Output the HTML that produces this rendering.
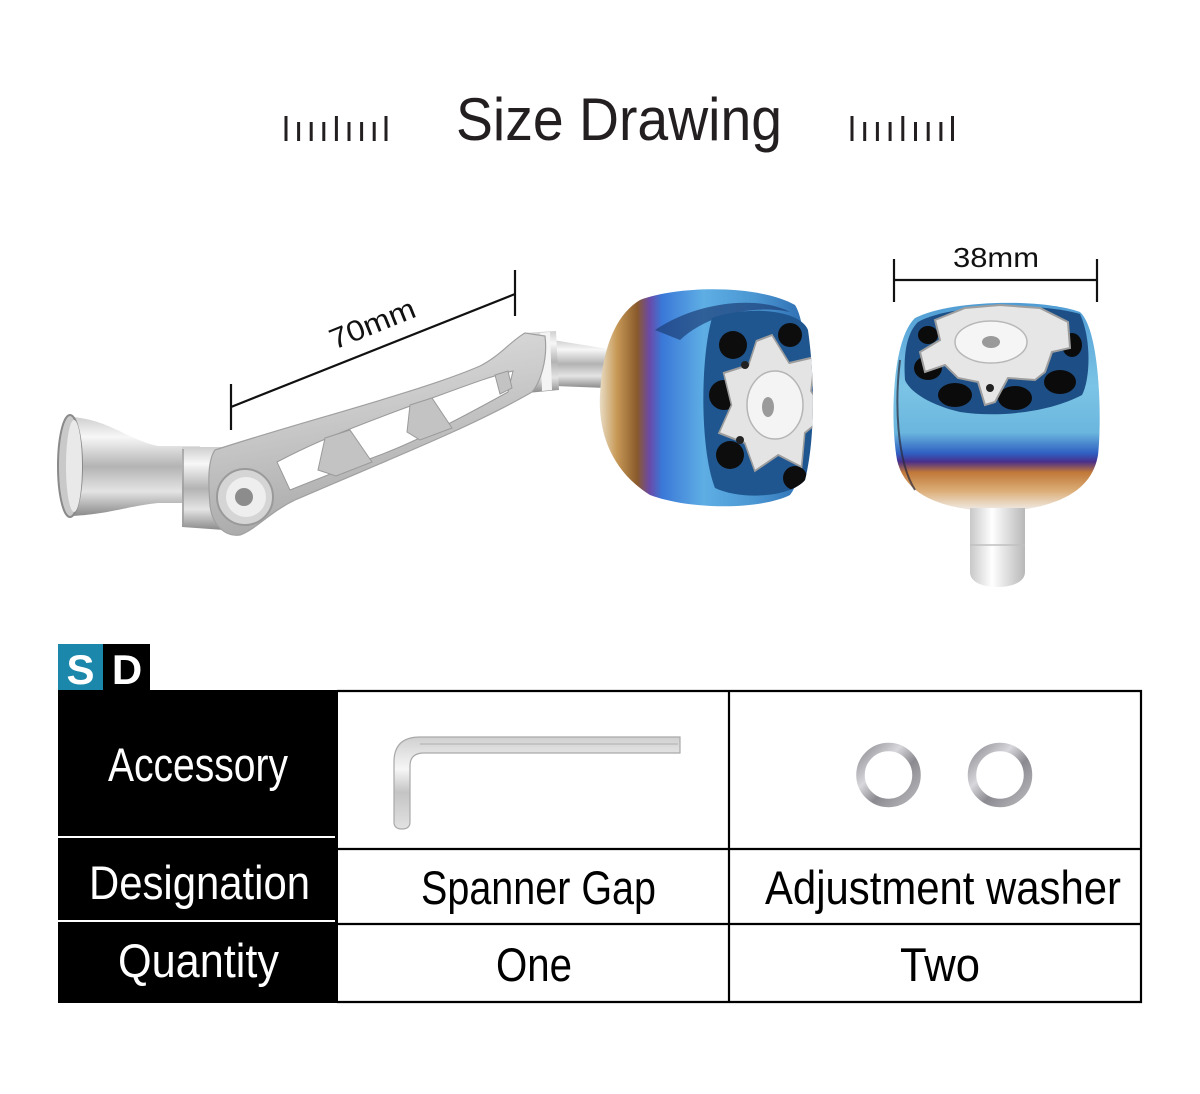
<!DOCTYPE html>
<html><head><meta charset="utf-8">
<style>
html,body{margin:0;padding:0;background:#fff;}
svg{display:block;}
text{font-family:"Liberation Sans",sans-serif;}
</style></head>
<body>
<svg width="1200" height="1094" viewBox="0 0 1200 1094" xmlns="http://www.w3.org/2000/svg">
<defs>
  <linearGradient id="silverV" x1="0" y1="0" x2="0" y2="1">
    <stop offset="0" stop-color="#cfcfcf"/>
    <stop offset="0.2" stop-color="#f7f7f7"/>
    <stop offset="0.5" stop-color="#b3b3b3"/>
    <stop offset="0.75" stop-color="#e4e4e4"/>
    <stop offset="1" stop-color="#8a8a8a"/>
  </linearGradient>
  <linearGradient id="arm" x1="0" y1="0" x2="0.3" y2="1">
    <stop offset="0" stop-color="#e4e4e4"/>
    <stop offset="0.45" stop-color="#cbcbcb"/>
    <stop offset="1" stop-color="#a8a8a8"/>
  </linearGradient>
  <linearGradient id="knobL" x1="0" y1="0" x2="1" y2="0">
    <stop offset="0" stop-color="#e8dcc4"/>
    <stop offset="0.08" stop-color="#c89a58"/>
    <stop offset="0.18" stop-color="#8a5a2a"/>
    <stop offset="0.24" stop-color="#6a4aa8"/>
    <stop offset="0.3" stop-color="#3a78d8"/>
    <stop offset="0.5" stop-color="#5eaee4"/>
    <stop offset="0.75" stop-color="#4a96d2"/>
    <stop offset="1" stop-color="#2d6cb0"/>
  </linearGradient>
  <linearGradient id="knobR" x1="0" y1="0" x2="0" y2="1">
    <stop offset="0" stop-color="#4f9cd4"/>
    <stop offset="0.4" stop-color="#7cc4e6"/>
    <stop offset="0.62" stop-color="#6ab6de"/>
    <stop offset="0.72" stop-color="#2f5fc2"/>
    <stop offset="0.76" stop-color="#4a2f8a"/>
    <stop offset="0.81" stop-color="#c07838"/>
    <stop offset="0.9" stop-color="#dcae78"/>
    <stop offset="1" stop-color="#f2f2f2"/>
  </linearGradient>
  <linearGradient id="shaftR" x1="0" y1="0" x2="1" y2="0">
    <stop offset="0" stop-color="#c8c8c8"/>
    <stop offset="0.4" stop-color="#ffffff"/>
    <stop offset="1" stop-color="#b8b8b8"/>
  </linearGradient>
  <linearGradient id="washer" x1="0" y1="0" x2="1" y2="1">
    <stop offset="0" stop-color="#8e8e94"/>
    <stop offset="0.35" stop-color="#d8d8dc"/>
    <stop offset="0.6" stop-color="#8a8a90"/>
    <stop offset="1" stop-color="#b8b8bc"/>
  </linearGradient>
  <linearGradient id="hexkey" x1="0" y1="0" x2="0" y2="1">
    <stop offset="0" stop-color="#d0d0d0"/>
    <stop offset="0.35" stop-color="#f6f6f6"/>
    <stop offset="0.6" stop-color="#c4c4c4"/>
    <stop offset="1" stop-color="#e2e2e2"/>
  </linearGradient>
  <clipPath id="faceL"><path d="M712 318 C750 305 800 310 808 330 C815 380 815 440 805 480 C790 498 740 500 715 488 C700 450 700 360 712 318 Z"/></clipPath>
</defs>

<rect width="1200" height="1094" fill="#fff"/>

<!-- Title -->
<text x="456" y="140" font-size="60" fill="#231f20" textLength="326" lengthAdjust="spacingAndGlyphs">Size Drawing</text>
<g stroke="#231f20" stroke-width="3">
  <line x1="286" y1="116" x2="286" y2="141"/>
  <line x1="298.6" y1="122" x2="298.6" y2="141"/>
  <line x1="311.2" y1="122" x2="311.2" y2="141"/>
  <line x1="323.8" y1="122" x2="323.8" y2="141"/>
  <line x1="336.4" y1="116" x2="336.4" y2="141"/>
  <line x1="349" y1="122" x2="349" y2="141"/>
  <line x1="361.6" y1="122" x2="361.6" y2="141"/>
  <line x1="374.2" y1="122" x2="374.2" y2="141"/>
  <line x1="386" y1="116" x2="386" y2="141"/>

  <line x1="852" y1="116" x2="852" y2="141"/>
  <line x1="864.7" y1="122" x2="864.7" y2="141"/>
  <line x1="877.4" y1="122" x2="877.4" y2="141"/>
  <line x1="890.1" y1="122" x2="890.1" y2="141"/>
  <line x1="902.8" y1="116" x2="902.8" y2="141"/>
  <line x1="915.5" y1="122" x2="915.5" y2="141"/>
  <line x1="928.2" y1="122" x2="928.2" y2="141"/>
  <line x1="940.9" y1="122" x2="940.9" y2="141"/>
  <line x1="952.5" y1="116" x2="952.5" y2="141"/>
</g>

<!-- 70mm dimension -->
<g stroke="#111" stroke-width="2.2">
  <line x1="231" y1="384" x2="231" y2="430"/>
  <line x1="515" y1="270" x2="515" y2="316"/>
  <line x1="231" y1="407" x2="515" y2="294"/>
</g>
<g transform="translate(376 333) rotate(-22)">
  <text x="0" y="0" font-size="29" fill="#111" text-anchor="middle" textLength="90" lengthAdjust="spacingAndGlyphs">70mm</text>
</g>

<!-- 38mm dimension -->
<g stroke="#111" stroke-width="2.2">
  <line x1="894" y1="259" x2="894" y2="302"/>
  <line x1="1097" y1="259" x2="1097" y2="302"/>
  <line x1="894" y1="280" x2="1097" y2="280"/>
</g>
<text x="996" y="267" font-size="28" fill="#111" text-anchor="middle" textLength="86" lengthAdjust="spacingAndGlyphs">38mm</text>

<!-- Crank: bell + end disc -->
<path d="M72 417 C110 420 128 440 158 446 L200 446 L200 503 L158 503 C128 506 110 514 72 516 Z" fill="url(#silverV)"/>
<ellipse cx="70" cy="466" rx="12" ry="51" fill="#c9c9c9" stroke="#8a8a8a" stroke-width="2"/>
<ellipse cx="74" cy="466" rx="8" ry="46" fill="#e9e9e9"/>
<!-- barrel -->
<path d="M182 447 L224 447 L224 530 L182 527 Z" fill="url(#silverV)"/>
<line x1="183" y1="449" x2="183" y2="526" stroke="#9c9c9c" stroke-width="1.5"/>

<!-- Shaft to knob -->
<path d="M553 340 L608 349 L606 388 L555 386 Z" fill="url(#silverV)"/>
<path d="M523 333 L556 331 L559 390 L527 393 Z" fill="url(#silverV)"/>
<path d="M540 333 L550 332 L552 390 L542 391 Z" fill="#f4f4f4"/>

<!-- Arm -->
<path d="M215 450 C300 422 420 392 480 366 C500 356 512 340 525 333 L545 336 C548 360 540 383 532 392 C470 428 380 463 295 500 C270 512 255 530 240 535 C225 537 212 525 210 505 C208 480 208 460 215 450 Z" fill="url(#arm)" stroke="#a0a0a0" stroke-width="1.2"/>
<!-- slot -->
<path d="M277 462 C300 450 323 438 413 405 C460 388 490 376 513 371 L508 392 C470 413 420 440 380 455 C340 470 310 482 290 490 Z" fill="#ffffff" stroke="#9a9a9a" stroke-width="1"/>
<!-- braces -->
<polygon points="325,438 350,430 372,462 336,476 318,470" fill="#c3c3c3" stroke="#9a9a9a" stroke-width="1"/>
<polygon points="410,405 432,398 452,428 420,440 407,432" fill="#c3c3c3" stroke="#9a9a9a" stroke-width="1"/>
<polygon points="495,375 508,371 512,388 500,394" fill="#c3c3c3" stroke="#9a9a9a" stroke-width="1"/>
<!-- screw -->
<circle cx="245" cy="497" r="28" fill="#d5d5d5" stroke="#9a9a9a" stroke-width="2"/>
<circle cx="246" cy="497" r="20" fill="#eeeeee"/>
<circle cx="244" cy="497" r="9" fill="#8c8c8c"/>

<!-- Left knob -->
<path d="M640 300 C680 285 760 285 795 305 C812 330 812 470 790 495 C760 510 690 510 650 495 C610 470 598 430 600 395 C602 350 615 315 640 300 Z" fill="url(#knobL)"/>
<path d="M655 330 C700 300 760 296 790 312 C760 305 710 312 680 340 Z" fill="#1d3f78" opacity="0.7"/>
<path d="M712 318 C750 305 800 310 808 330 C815 380 815 440 805 480 C790 498 740 500 715 488 C700 450 700 360 712 318 Z" fill="#1f5690"/>
<g clip-path="url(#faceL)">
  <circle cx="733" cy="345" r="14" fill="#0d0d0d"/>
  <circle cx="724" cy="395" r="15" fill="#0d0d0d"/>
  <circle cx="730" cy="455" r="14" fill="#0d0d0d"/>
  <circle cx="790" cy="335" r="12" fill="#0d0d0d"/>
  <circle cx="795" cy="478" r="12" fill="#0d0d0d"/>
  <g transform="translate(772 405) scale(0.78 1)">
    <polygon points="0,-70 22,-42 55,-48 50,-14 70,10 42,28 38,62 8,50 -22,66 -35,38 -68,28 -52,0 -62,-32 -30,-40 -20,-64" fill="#e4e4e4" stroke="#9d9d9d" stroke-width="2"/>
  </g>
  <circle cx="745" cy="365" r="4" fill="#222"/>
  <circle cx="740" cy="440" r="4" fill="#222"/>
  <ellipse cx="775" cy="405" rx="28" ry="34" fill="#f4f4f4" stroke="#b5b5b5" stroke-width="1.5"/>
  <ellipse cx="768" cy="407" rx="6" ry="10" fill="#9a9a9a"/>
</g>

<!-- Right knob -->
<path d="M915 318 C950 300 1040 298 1080 312 C1100 330 1102 420 1098 455 C1092 490 1060 508 1000 512 C940 510 905 495 897 460 C890 420 892 340 915 318 Z" fill="url(#knobR)"/>
<path d="M900 360 C895 400 896 460 915 490" stroke="#2a2a3a" stroke-width="2" fill="none" opacity="0.7"/>
<path d="M918 322 C950 304 1040 302 1080 314 C1092 340 1090 380 1082 395 C1050 412 1000 418 960 412 C930 405 910 392 905 380 C903 350 908 332 918 322 Z" fill="#1d4f86"/>
<ellipse cx="928" cy="368" rx="14" ry="12" fill="#0b0b0b"/>
<ellipse cx="955" cy="395" rx="17" ry="12" fill="#0b0b0b"/>
<ellipse cx="1015" cy="398" rx="17" ry="12" fill="#0b0b0b"/>
<ellipse cx="1060" cy="382" rx="16" ry="12" fill="#0b0b0b"/>
<ellipse cx="1072" cy="345" rx="10" ry="12" fill="#0b0b0b"/>
<ellipse cx="928" cy="335" rx="10" ry="9" fill="#0b0b0b"/>
<polygon points="935,320 965,308 1000,305 1040,308 1068,322 1070,348 1052,352 1045,372 1035,380 1008,378 995,402 985,405 978,382 958,378 945,365 925,372 920,352 940,340" fill="#e6e6e6" stroke="#9e9e9e" stroke-width="2"/>
<ellipse cx="991" cy="342" rx="36" ry="21" fill="#f5f5f5" stroke="#b8b8b8" stroke-width="1.5"/>
<ellipse cx="991" cy="342" rx="9" ry="6" fill="#9a9a9a"/>
<circle cx="990" cy="388" r="4" fill="#222"/>
<!-- right shaft -->
<path d="M970 508 L1025 508 L1025 572 C1025 582 1012 587 998 587 C982 587 970 582 970 572 Z" fill="url(#shaftR)"/>
<line x1="970" y1="545" x2="1025" y2="545" stroke="#c0c0c0" stroke-width="1.5"/>

<!-- SD badge -->
<rect x="58" y="644" width="45" height="46" fill="#1b87aa"/>
<rect x="103" y="644" width="47" height="46" fill="#000"/>
<text x="80.5" y="684" font-size="42" font-weight="bold" fill="#fff" text-anchor="middle">S</text>
<text x="127" y="684" font-size="42" font-weight="bold" fill="#fff" text-anchor="middle">D</text>

<!-- Table left black column -->
<rect x="58" y="690" width="280" height="313" fill="#000"/>
<rect x="58" y="836" width="277" height="2" fill="#fff"/>
<rect x="58" y="920" width="277" height="2" fill="#fff"/>
<text x="108" y="781" font-size="47" fill="#fff" textLength="180" lengthAdjust="spacingAndGlyphs">Accessory</text>
<text x="89" y="899" font-size="47" fill="#fff" textLength="221" lengthAdjust="spacingAndGlyphs">Designation</text>
<text x="118" y="977" font-size="47" fill="#fff" textLength="161" lengthAdjust="spacingAndGlyphs">Quantity</text>

<!-- Table right grid -->
<g stroke="#000" stroke-width="2.2" fill="none">
  <line x1="337" y1="691" x2="1142" y2="691"/>
  <line x1="1141" y1="690" x2="1141" y2="1003"/>
  <line x1="729" y1="690" x2="729" y2="1003"/>
  <line x1="337" y1="849" x2="1142" y2="849"/>
  <line x1="337" y1="924" x2="1142" y2="924"/>
  <line x1="337" y1="1002" x2="1142" y2="1002"/>
</g>

<!-- hex key -->
<path d="M680 737 L420 737 Q394 737 394 762 L394 822 Q394 829 402 829 Q410 829 410 822 L410 766 Q410 753 424 753 L680 753 Z" fill="url(#hexkey)" stroke="#a9a9a9" stroke-width="1.2"/>
<line x1="420" y1="744" x2="678" y2="744" stroke="#bcbcbc" stroke-width="1.5"/>

<!-- washers -->
<circle cx="888.5" cy="775" r="28" fill="none" stroke="url(#washer)" stroke-width="8.5"/>
<circle cx="1000" cy="775" r="28" fill="none" stroke="url(#washer)" stroke-width="8.5"/>

<!-- cell texts -->
<text x="421" y="904" font-size="47" fill="#000" textLength="235" lengthAdjust="spacingAndGlyphs">Spanner Gap</text>
<text x="765" y="904" font-size="47" fill="#000" textLength="356" lengthAdjust="spacingAndGlyphs">Adjustment washer</text>
<text x="496" y="981" font-size="47" fill="#000" textLength="76" lengthAdjust="spacingAndGlyphs">One</text>
<text x="900" y="981" font-size="47" fill="#000" textLength="80" lengthAdjust="spacingAndGlyphs">Two</text>
</svg>
</body></html>
